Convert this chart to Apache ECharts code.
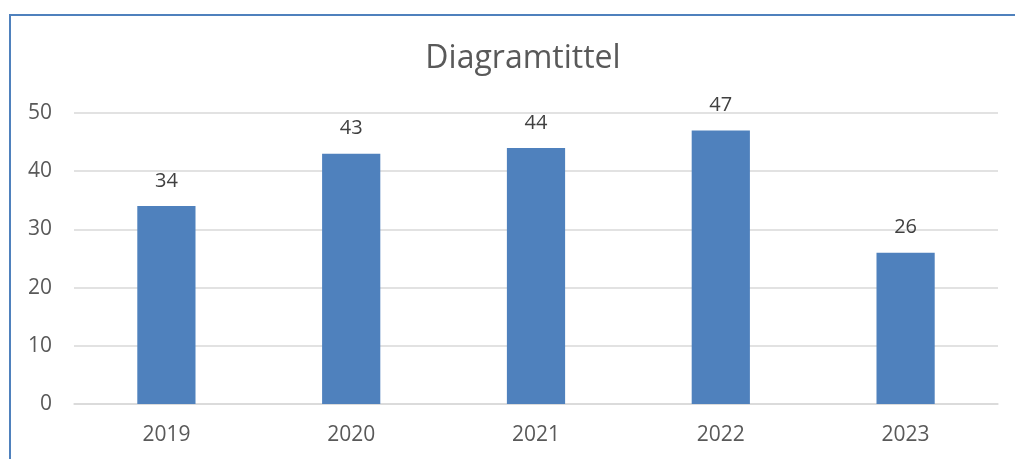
<!DOCTYPE html>
<html><head><meta charset="utf-8">
<script src="https://cdn.jsdelivr.net/npm/echarts@6/dist/echarts.min.js"></script>
<style>html,body{margin:0;padding:0;background:#fff}#c{width:1015px;height:459px}</style>
</head><body><div id="c"></div>
<script>
const categories = ['2019', '2020', '2021', '2022', '2023'];
const values = [34, 43, 44, 47, 26];
const title = 'Diagramtittel';
const chart = echarts.init(document.getElementById('c'), null, {renderer: 'canvas'});
const txt = '#595959';
const font = 'Open Sans';
chart.setOption({
  animation: false,
  title: {
    text: title, left: 518, top: 38, textAlign: 'center',
    textStyle: {fontFamily: font, fontSize: 32, fontWeight: 'normal', color: txt}
  },
  graphic: [
    {type: 'line', shape: {x1: 10, y1: 15, x2: 1015, y2: 15}, style: {stroke: '#4F81BD', lineWidth: 2}},
    {type: 'line', shape: {x1: 10, y1: 14, x2: 10, y2: 459}, style: {stroke: '#4F81BD', lineWidth: 2}}
  ],
  grid: {left: 74, right: 17, top: 113, bottom: 55, containLabel: false},
  xAxis: {
    type: 'category', data: categories,
    axisLine: {lineStyle: {color: '#D9D9D9', width: 1.5}},
    axisTick: {show: false},
    axisLabel: {color: txt, fontFamily: font, fontSize: 21, margin: 21}
  },
  yAxis: {
    type: 'value', min: 0, max: 50, interval: 10,
    axisLine: {show: false}, axisTick: {show: false},
    splitLine: {lineStyle: {color: '#D9D9D9', width: 1.5}},
    axisLabel: {color: txt, fontFamily: font, fontSize: 21, margin: 22}
  },
  series: [{
    type: 'bar', data: values, barWidth: '31.5%',
    itemStyle: {color: '#4F81BD'},
    label: {show: true, position: 'top', distance: 15, color: '#404040', fontFamily: font, fontSize: 20}
  }]
});
</script></body></html>
